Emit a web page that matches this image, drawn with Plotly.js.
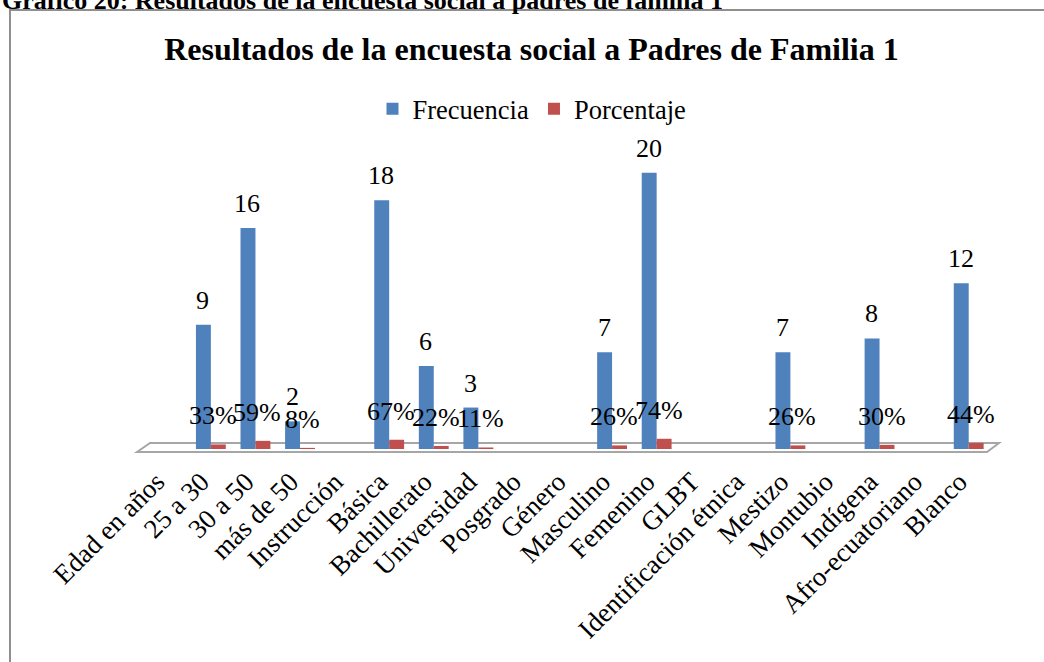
<!DOCTYPE html>
<html>
<head>
<meta charset="utf-8">
<script src="https://cdn.plot.ly/plotly-3.0.1.min.js"></script>
<style>html,body{margin:0;padding:0;background:#fff;}#chart{width:1044px;height:662px;}</style>
</head>
<body>
<div id="chart"></div>
<script>
const categories = ['Edad en años','25 a 30','30 a 50','más de 50','Instrucción','Básica','Bachillerato','Universidad','Posgrado','Género','Masculino','Femenino','GLBT','Identificación étnica','Mestizo','Montubio','Indígena','Afro-ecuatoriano','Blanco'];
const frecuencia = [null,9,16,2,null,18,6,3,null,null,7,20,null,null,7,null,8,null,12];
const porcentaje = [null,0.33,0.59,0.08,null,0.67,0.22,0.11,null,null,0.26,0.74,null,null,0.26,null,0.30,null,0.44];

const W = 1044, H = 662;
const M = {l:144, r:53, t:145, b:213};
const PW = W - M.l - M.r, PH = H - M.t - M.b;
const px = x => (x - M.l) / PW;
const py = y => (H - M.b - y) / PH;
const SERIF = 'Liberation Serif';

const traces = [
  {type:'bar', name:'Frecuencia', x:categories, y:frecuencia, marker:{color:'#4F81BD'}, hoverinfo:'x+y'},
  {type:'bar', name:'Porcentaje', x:categories, y:porcentaje, marker:{color:'#C0504D'}, hoverinfo:'x+y'}
];

const annotations = [];
categories.forEach((c, i) => {
  if (frecuencia[i] !== null) {
    annotations.push({xref:'x', yref:'y', x:c, y:frecuencia[i], text:String(frecuencia[i]),
      showarrow:false, xshift:-8, yshift:8, yanchor:'bottom', xanchor:'center',
      font:{family:SERIF, size:26, color:'#000'}});
  }
  if (porcentaje[i] !== null) {
    annotations.push({xref:'x', yref:'y', x:c, y:porcentaje[i], text:Math.round(porcentaje[i]*100)+'%',
      showarrow:false, xshift:2, yshift:12, yanchor:'bottom', xanchor:'center',
      font:{family:SERIF, size:26, color:'#000'}});
  }
});
annotations.push({xref:'paper', yref:'paper', x:px(0), y:py(17), xanchor:'left', yanchor:'bottom',
  showarrow:false, text:'<b>Gráfico 20: Resultados de la encuesta social a padres de familia 1</b>',
  font:{family:SERIF, size:26, color:'#000'}});

const shapes = [
  {type:'rect', xref:'paper', yref:'paper', x0:px(10), x1:px(1060), y0:py(680), y1:py(10),
   line:{color:'#8f8f8f', width:2}, fillcolor:'rgba(0,0,0,0)', layer:'below'},
  {type:'path', xref:'paper', yref:'paper', layer:'below',
   path:`M${px(137)},${py(452)} L${px(150)},${py(443)} L${px(999)},${py(443)} L${px(987)},${py(452)} Z`,
   line:{color:'#a6a6a6', width:2}, fillcolor:'#ffffff'}
];

const tickText = categories.map(c => c + '\u00A0\u00A0');

const layout = {
  width:W, height:H, margin:M,
  paper_bgcolor:'#fff', plot_bgcolor:'rgba(0,0,0,0)',
  font:{family:SERIF, color:'#000'},
  title:{text:'Resultados de la encuesta social a Padres de Familia 1', x:531.5/W, xanchor:'center',
    y:1-49/H, yanchor:'middle', font:{family:SERIF, size:32, weight:'bold', color:'#000'}},
  barmode:'group', bargap:0.33, bargroupgap:0,
  showlegend:true,
  legend:{orientation:'h', x:px(532), xanchor:'center', y:py(85), yanchor:'top',
    font:{family:SERIF, size:26.5, color:'#000'}, itemwidth:30, traceorder:'normal', bgcolor:'rgba(0,0,0,0)'},
  xaxis:{type:'category', range:[-0.5, 18.5], tickangle:-45, showgrid:false, zeroline:false, showline:false,
    tickmode:'array', tickvals:categories, ticktext:tickText,
    ticks:'', ticklabelstandoff:1, tickfont:{family:SERIF, size:27, color:'#000'}, fixedrange:true},
  yaxis:{range:[0,22], visible:false, showgrid:false, zeroline:false, fixedrange:true},
  annotations:annotations, shapes:shapes
};

Plotly.newPlot('chart', traces, layout, {displayModeBar:false, staticPlot:true});
</script>
</body>
</html>
